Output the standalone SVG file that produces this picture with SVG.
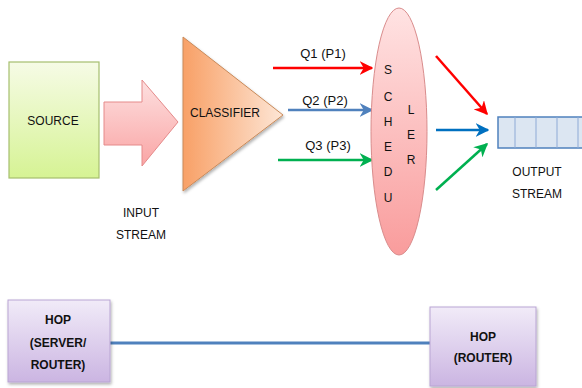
<svg xmlns="http://www.w3.org/2000/svg" width="582" height="388" viewBox="0 0 582 388">
<defs>
<linearGradient id="gSrc" x1="0" y1="0" x2="0" y2="1"><stop offset="0" stop-color="#f6fbe6"/><stop offset="1" stop-color="#d6f394"/></linearGradient>
<linearGradient id="gIn" x1="0" y1="0" x2="0" y2="1"><stop offset="0" stop-color="#fde0e0"/><stop offset="1" stop-color="#faa5a5"/></linearGradient>
<linearGradient id="gCls" x1="0" y1="0" x2="1" y2="0"><stop offset="0" stop-color="#f8a066"/><stop offset="1" stop-color="#fde6d6"/></linearGradient>
<linearGradient id="gSch" x1="0" y1="0" x2="0" y2="1"><stop offset="0" stop-color="#ffe3e3"/><stop offset="1" stop-color="#f99c9c"/></linearGradient>
<linearGradient id="gHop" x1="0" y1="0" x2="0" y2="1"><stop offset="0" stop-color="#f1ebf8"/><stop offset="1" stop-color="#cbb5e2"/></linearGradient>
<filter id="sh" x="-20%" y="-20%" width="140%" height="140%"><feDropShadow dx="1" dy="2" stdDeviation="1.5" flood-color="#000" flood-opacity="0.3"/></filter>
<marker id="mR" viewBox="0 0 10 10" refX="9" refY="5" markerWidth="5.5" markerHeight="5.5" orient="auto" markerUnits="strokeWidth"><path d="M0,0 L10,5 L0,10 L3,5 Z" fill="#ff0000"/></marker>
<marker id="mB" viewBox="0 0 10 10" refX="9" refY="5" markerWidth="5.5" markerHeight="5.5" orient="auto" markerUnits="strokeWidth"><path d="M0,0 L10,5 L0,10 L3,5 Z" fill="#4f81bd"/></marker>
<marker id="mB2" viewBox="0 0 10 10" refX="9" refY="5" markerWidth="5.5" markerHeight="5.5" orient="auto" markerUnits="strokeWidth"><path d="M0,0 L10,5 L0,10 L3,5 Z" fill="#0070c0"/></marker>
<marker id="mG" viewBox="0 0 10 10" refX="9" refY="5" markerWidth="5.5" markerHeight="5.5" orient="auto" markerUnits="strokeWidth"><path d="M0,0 L10,5 L0,10 L3,5 Z" fill="#00b050"/></marker>
</defs>
<style>
text{font-family:"Liberation Sans",Arial,sans-serif;font-size:12px;fill:#111;text-anchor:middle}
.b{font-weight:bold}
.q{font-size:13px}
.ln{fill:none;stroke-width:2.5}
</style>
<g id="connectors">
<line class="ln" x1="273" y1="68" x2="372" y2="68" stroke="#ff0000" marker-end="url(#mR)"/>
<line class="ln" x1="288" y1="110" x2="372" y2="110" stroke="#4f81bd" marker-end="url(#mB)"/>
<line class="ln" x1="278" y1="160" x2="372" y2="160" stroke="#00b050" marker-end="url(#mG)"/>
<line class="ln" x1="436" y1="56" x2="487" y2="114" stroke="#ff0000" marker-end="url(#mR)"/>
<line class="ln" x1="436" y1="130" x2="488" y2="130" stroke="#0070c0" marker-end="url(#mB2)"/>
<line class="ln" x1="436" y1="190" x2="487" y2="144" stroke="#00b050" marker-end="url(#mG)"/>
<line x1="110" y1="343" x2="430" y2="343" stroke="#4f81bd" stroke-width="3"/>
<text class="q" x="323" y="58">Q1 (P1)</text>
<text class="q" x="325" y="105">Q2 (P2)</text>
<text class="q" x="328" y="150">Q3 (P3)</text>
</g>
<g id="source">
<rect x="9" y="62" width="90" height="116" fill="url(#gSrc)" stroke="#a6bf6e" stroke-width="1.2"/>
<text x="53" y="125">SOURCE</text>
</g>
<g id="input-stream">
<path d="M104,102 H142 V80 L178,122 L142,166 V145 H104 Z" fill="url(#gIn)" stroke="#e58a8a" stroke-width="1"/>
<text x="141" y="217">INPUT</text>
<text x="141" y="239">STREAM</text>
</g>
<g id="classifier">
<path d="M183,37 L283,115 L183,191 Z" fill="url(#gCls)" stroke="#c98a5a" stroke-width="1" filter="url(#sh)"/>
<text x="225" y="117">CLASSIFIER</text>
</g>
<g id="scheduler">
<ellipse cx="399" cy="131.5" rx="28" ry="123.5" fill="url(#gSch)" stroke="#d98c8c" stroke-width="1"/>
<text x="388" y="74">S</text>
<text x="388" y="101">C</text>
<text x="388" y="126">H</text>
<text x="388" y="151">E</text>
<text x="388" y="176">D</text>
<text x="388" y="202">U</text>
<text x="411" y="114">L</text>
<text x="411" y="139">E</text>
<text x="411" y="164">R</text>
</g>
<g id="output-stream">
<rect x="498" y="117" width="90" height="31" fill="#dce6f2" stroke="#4f81bd" stroke-width="1.5"/>
<line x1="515" y1="117" x2="515" y2="148" stroke="#8eaad6" stroke-width="1"/>
<line x1="536" y1="117" x2="536" y2="148" stroke="#8eaad6" stroke-width="1"/>
<line x1="557" y1="117" x2="557" y2="148" stroke="#8eaad6" stroke-width="1"/>
<line x1="578" y1="117" x2="578" y2="148" stroke="#8eaad6" stroke-width="1"/>
<text x="537" y="176">OUTPUT</text>
<text x="537" y="198">STREAM</text>
</g>
<g id="hop1">
<rect x="8" y="300" width="102" height="82" fill="url(#gHop)" stroke="#b9a5d3" stroke-width="1" filter="url(#sh)"/>
<text class="b" x="58" y="324">HOP</text>
<text class="b" x="58" y="347">(SERVER/</text>
<text class="b" x="58" y="369">ROUTER)</text>
</g>
<g id="hop2">
<rect x="430" y="307" width="106" height="79" fill="url(#gHop)" stroke="#b9a5d3" stroke-width="1" filter="url(#sh)"/>
<text class="b" x="483" y="341">HOP</text>
<text class="b" x="483" y="362">(ROUTER)</text>
</g>
</svg>
